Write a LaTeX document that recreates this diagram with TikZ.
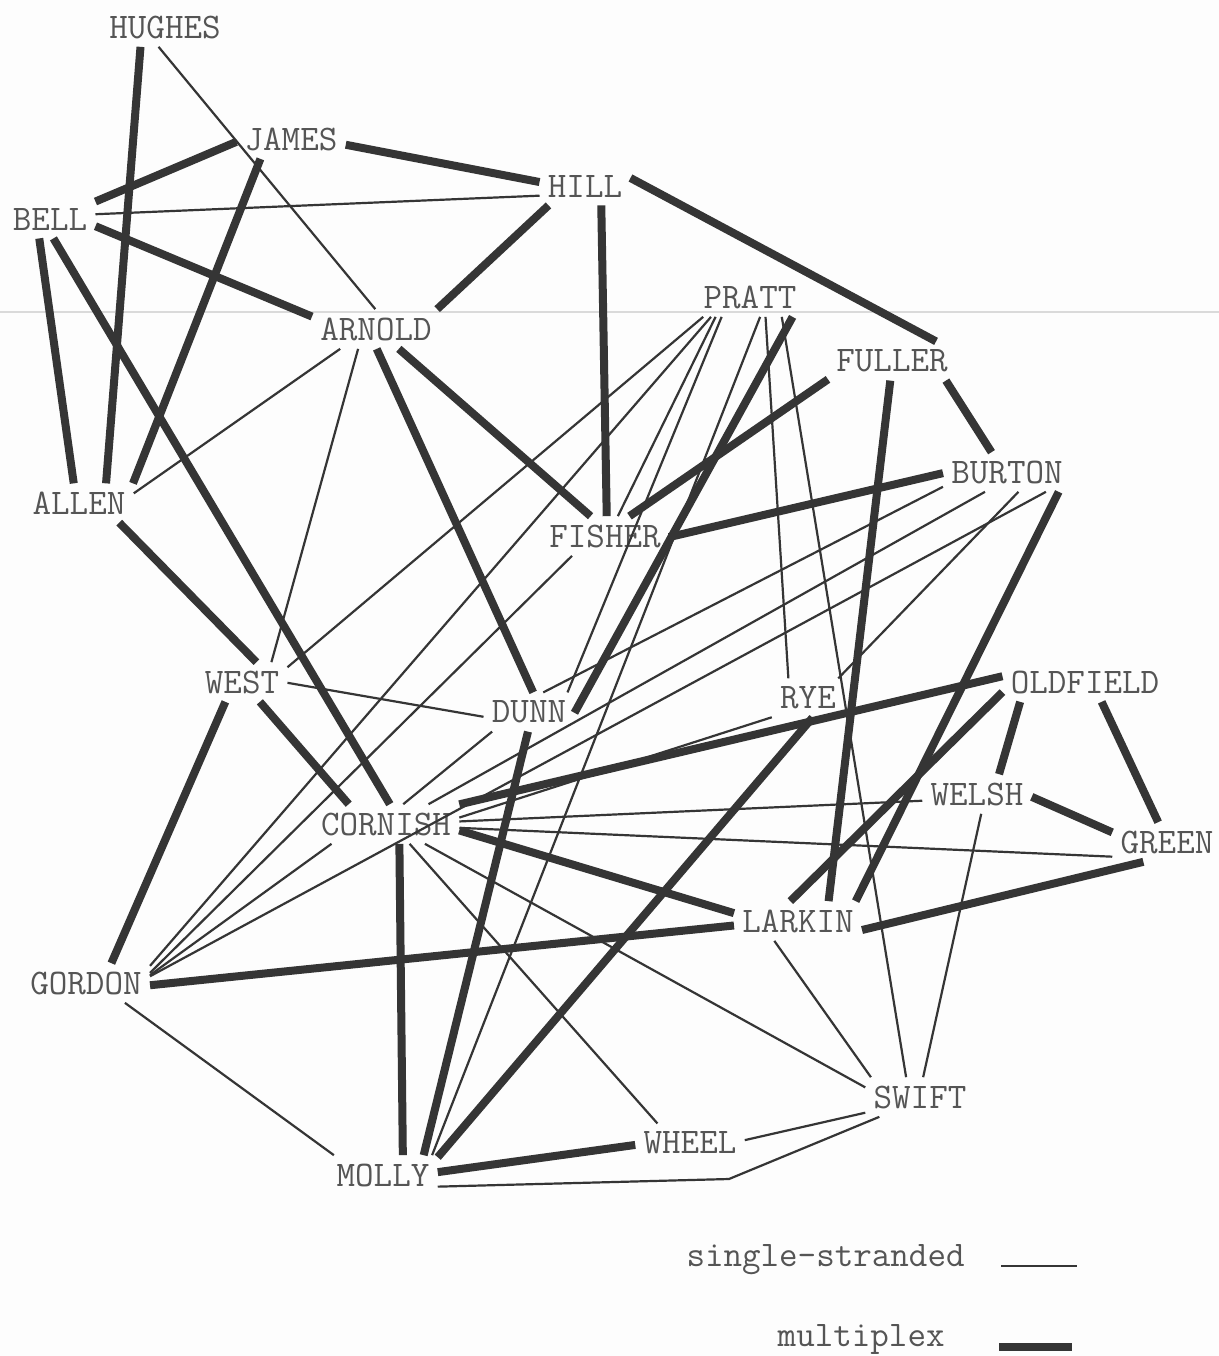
\documentclass[tikz,border=0pt]{standalone}
\usepackage{fontspec}
\usetikzlibrary{calc}
\definecolor{ink}{HTML}{353535}
\definecolor{typed}{HTML}{555555}
\definecolor{paper}{HTML}{FDFDFD}
\definecolor{scan}{HTML}{DADADA}
\tikzset{
  person/.style={font=\ttfamily\fontsize{18}{20}\selectfont, text=typed, inner sep=4pt},
  legend/.style={font=\ttfamily\fontsize{18}{20}\selectfont, text=typed, inner sep=0pt},
  singleline/.style={draw=ink, line width=1.1pt},
  multiline/.style={draw=ink, line width=4pt}
}

\begin{document}
\begin{tikzpicture}[x=0.5pt,y=-0.5pt]
\useasboundingbox[fill=paper] (0,0) rectangle (1219,1356);
\draw[scan, line width=0.6pt] (0,312) -- (1219,312);

\node[person] (hughes) at (165,27) {HUGHES};
\node[person] (james) at (291,139) {JAMES};
\node[person] (hill) at (585,186) {HILL};
\node[person] (bell) at (50,219) {BELL};
\node[person] (arnold) at (376,329) {ARNOLD};
\node[person] (pratt) at (750,297) {PRATT};
\node[person] (fuller) at (892,361) {FULLER};
\node[person] (allen) at (79,503) {ALLEN};
\node[person] (fisher) at (605,536) {FISHER};
\node[person] (burton) at (1007,472) {BURTON};
\node[person] (west) at (242,682) {WEST};
\node[person] (dunn) at (529,712) {DUNN};
\node[person] (rye) at (808,698) {RYE};
\node[person] (oldfield) at (1085,682) {OLDFIELD};
\node[person] (welsh) at (977,794) {WELSH};
\node[person] (cornish) at (386,824) {CORNISH};
\node[person] (green) at (1167,842) {GREEN};
\node[person] (larkin) at (798,921) {LARKIN};
\node[person] (gordon) at (86,983) {GORDON};
\node[person] (swift) at (920,1097) {SWIFT};
\node[person] (wheel) at (690,1143) {WHEEL};
\node[person] (molly) at (383,1175) {MOLLY};
\coordinate (mbend) at (729,1179);

% multiplex ties
\draw[multiline] (hughes.219) -- (allen.36);
\draw[multiline] (james.183) -- (bell.21);
\draw[multiline] (james.-6) -- (hill.175);
\draw[multiline] (james.213) -- (allen.20);
\draw[multiline] (bell.-9) -- (arnold.169);
\draw[multiline] (bell.241) -- (allen.105);
\draw[multiline] (bell.-80) -- (cornish.79);
\draw[multiline] (hill.208) -- (arnold.18);
\draw[multiline] (hill.-50) -- (fisher.85);
\draw[multiline] (hill.10) -- (fuller.24);
\draw[multiline] (arnold.-88) -- (dunn.78);
\draw[multiline] (arnold.-41) -- (fisher.126);
\draw[multiline] (pratt.-25) -- (dunn.-1);
\draw[multiline] (fuller.196) -- (fisher.39);
\draw[multiline] (fuller.-20) -- (burton.128);
\draw[multiline] (fuller.-95) -- (larkin.33);
\draw[multiline] (burton.181) -- (fisher.-1);
\draw[multiline] (burton.-21) -- (larkin.19);
\draw[multiline] (allen.-26) -- (west.54);
\draw[multiline] (west.-48) -- (cornish.152);
\draw[multiline] (west.230) -- (gordon.38);
\draw[multiline] (dunn.-93) -- (molly.26);
\draw[multiline] (oldfield.176) -- (cornish.15);
\draw[multiline] (oldfield.187) -- (larkin.111);
\draw[multiline] (oldfield.197) -- (welsh.42);
\draw[multiline] (oldfield.-50) -- (green.114);
\draw[multiline] (welsh.-3) -- (green.170);
\draw[multiline] (green.220) -- (larkin.-8);
\draw[multiline] (cornish.-5) -- (larkin.173);
\draw[multiline] (cornish.-56) -- (molly.45);
\draw[multiline] (gordon.-2) -- (larkin.184);
\draw[multiline] (molly.3) -- (wheel.182);
\draw[multiline] (rye.-77) -- (molly.18);

% single-stranded ties
\draw[singleline] (hughes.-108) -- (arnold.92);
\draw[singleline] (bell.6) -- (hill.192);
\draw[singleline] (arnold.209) -- (allen.10);
\draw[singleline] (arnold.228) -- (west.34);
\draw[singleline] (pratt.203) -- (west.18);
\draw[singleline] (pratt.207) -- (gordon.15);
\draw[singleline] (pratt.210) -- (fisher.57);
\draw[singleline] (pratt.215) -- (dunn.27);
\draw[singleline] (pratt.-63) -- (molly.22);
\draw[singleline] (pratt.-52) -- (rye.135);
\draw[singleline] (pratt.-32) -- (swift.125);
\draw[singleline] (burton.-60) -- (rye.33);
\draw[singleline] (burton.193) -- (dunn.54);
\draw[singleline] (burton.222) -- (cornish.25);
\draw[singleline] (burton.-27) -- (gordon.6);
\draw[singleline] (west.-1) -- (dunn.186);
\draw[singleline] (cornish.49) -- (dunn.208);
\draw[singleline] (gordon.-27) -- (molly.158);
\draw[singleline] (gordon.7) -- (cornish.200);
\draw[singleline] (gordon.9) -- (fisher.211);
\draw[singleline] (cornish.5) -- (rye.208);
\draw[singleline] (cornish.2) -- (welsh.187);
\draw[singleline] (cornish.-3) -- (green.195);
\draw[singleline] (cornish.-27) -- (swift.170);
\draw[singleline] (cornish.-40) -- (wheel.149);
\draw[singleline] (larkin.220) -- (swift.158);
\draw[singleline] (welsh.-78) -- (swift.81);
\draw[singleline] (swift.196) -- (wheel.3);
\draw[singleline] (swift.206) -- (mbend) -- (molly.-12);

\node[legend, anchor=base east] (lgsingle) at (965,1266) {single-stranded};
\node[legend, anchor=base east] (lgmulti) at (945,1346) {multiplex};
\coordinate (ls1) at (1001,1266); \coordinate (ls2) at (1077,1266);
\coordinate (lm1) at (999,1347); \coordinate (lm2) at (1072,1347);
\draw[singleline] (ls1) -- (ls2);
\draw[multiline] (lm1) -- (lm2);
\end{tikzpicture}
\end{document}
